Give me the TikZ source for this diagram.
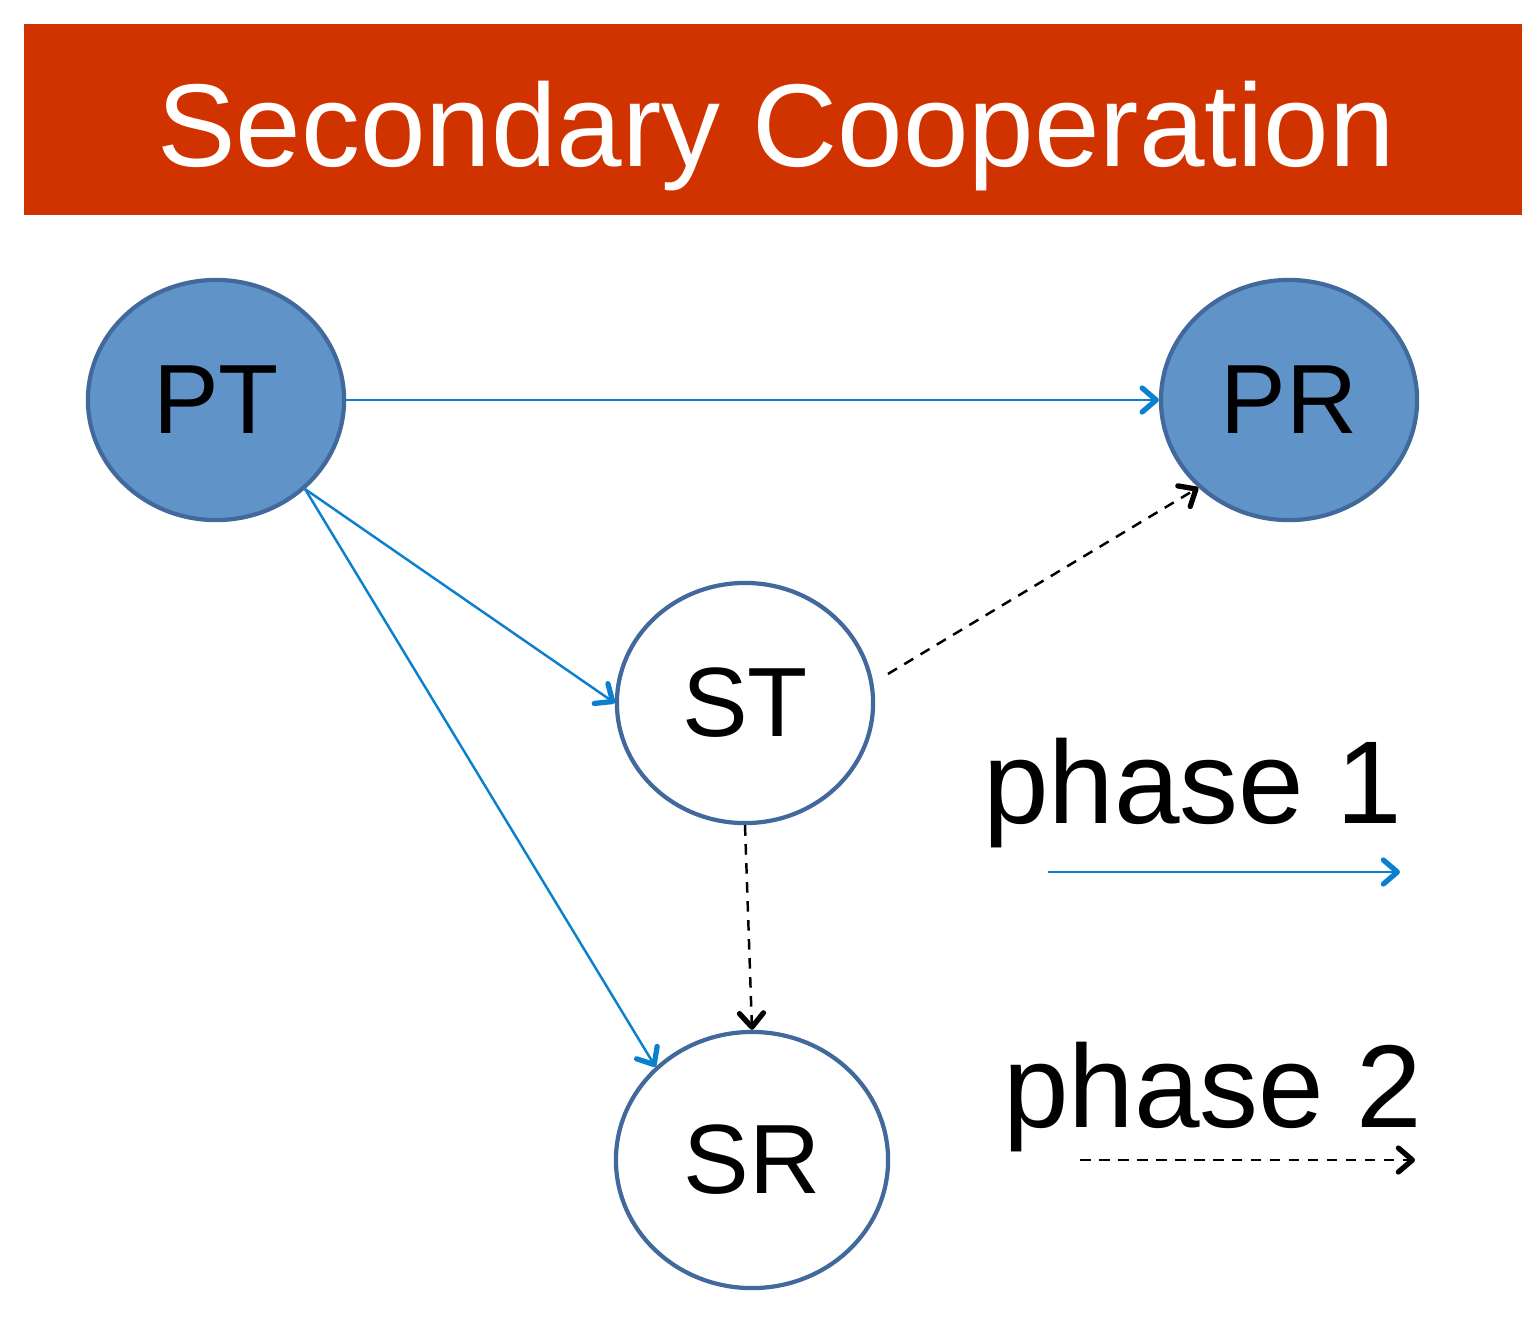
\documentclass[tikz,border=0pt]{standalone}
\usepackage{xcolor}
\usepackage{fontspec}
\setmainfont{Liberation Sans}
\usetikzlibrary{arrows.meta,shapes.geometric}

\definecolor{banner}{HTML}{D13300}
\definecolor{nodeblue}{HTML}{6094C8}
\definecolor{rimblue}{HTML}{41699C}
\definecolor{linkblue}{HTML}{0C80CF}

\tikzset{
  station/.style={ellipse,draw=rimblue,line width=1.2pt,minimum width=2.56cm,
    minimum height=2.4cm,inner sep=0pt,font=\fontsize{28}{32}\selectfont},
  primary/.style={station,fill=nodeblue},
  tip/.style={-{Straight Barb[length=1.4mm,width=2.4mm,line width=1.5pt,round]}},
  phaseone/.style={tip,draw=linkblue,line width=0.7pt},
  phasetwo/.style={tip,draw=black,line width=0.7pt,dash pattern=on 3pt off 2.4pt},
}

\begin{document}
\begin{tikzpicture}[x=0.01cm,y=-0.01cm]
  \useasboundingbox (0,0) rectangle (1522,1335);
  \fill[banner] (24,24) rectangle (1522,215);
  \node[text=white,font=\fontsize{33.5}{36}\selectfont] (title) at (776,136) {Secondary Cooperation};

  \node[primary] (PT) at (216,400) {\raisebox{-3pt}{PT}};
  \node[primary] (PR) at (1289,400) {\raisebox{-3pt}{PR}};
  \node[station] (ST) at (745,703) {\raisebox{-3pt}{ST}};
  \node[station,minimum width=2.72cm,minimum height=2.56cm] (SR) at (752,1160) {\raisebox{-3pt}{SR}};

  \draw[phaseone] (PT) -- (PR);
  \draw[phaseone] (PT.-45) -- (ST.west);
  \draw[phaseone] (PT.-45) -- (SR.136);
  \draw[phasetwo,shorten <=0.17cm] (ST.9) -- (PR.-136);
  \draw[phasetwo] (ST.south) -- (SR.north);

  % legend
  \node[font=\fontsize{33.5}{36}\selectfont] (p1) at (1193,793) {phase 1};
  \node[font=\fontsize{33.5}{36}\selectfont] (p2) at (1213,1097) {phase 2};
  \coordinate (a1) at (1048,872);
  \coordinate (b1) at (1400,872);
  \coordinate (a2) at (1080,1160);
  \coordinate (b2) at (1415,1160);
  \draw[phaseone] (a1) -- (b1);
  \draw[phasetwo] (a2) -- (b2);
\end{tikzpicture}
\end{document}
